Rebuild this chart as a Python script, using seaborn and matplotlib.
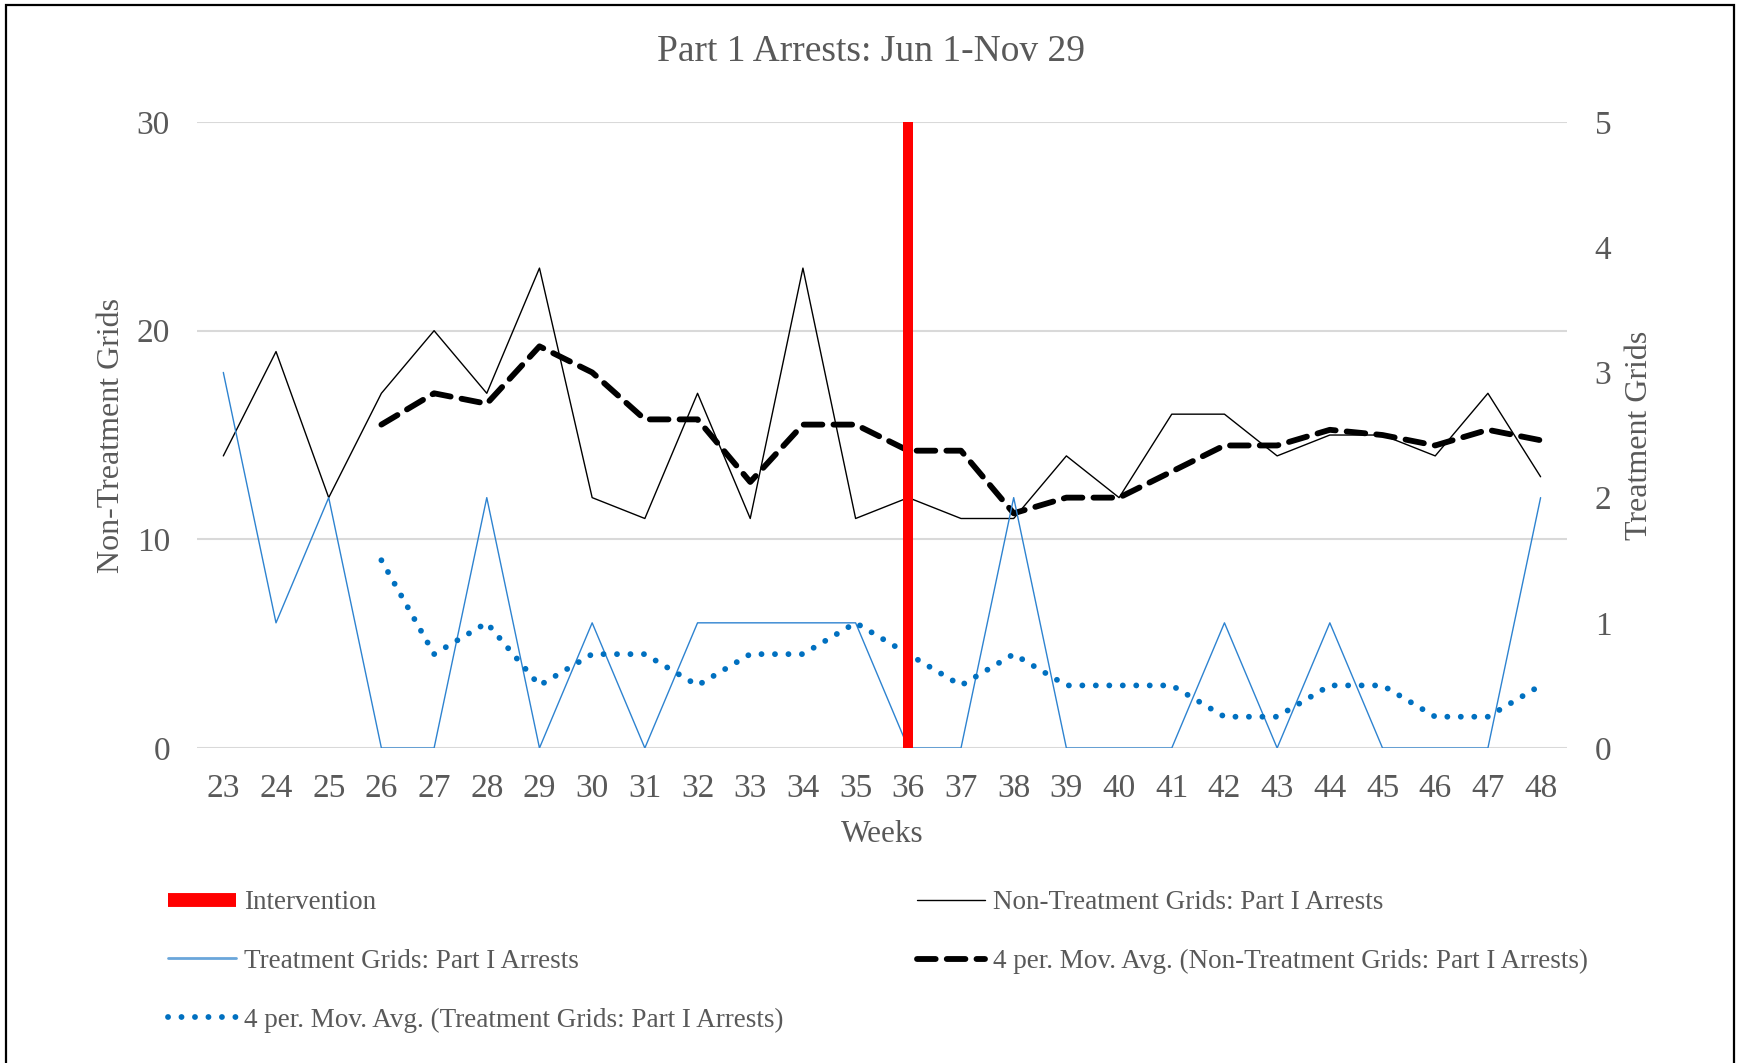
import matplotlib
matplotlib.use("Agg")
import matplotlib.pyplot as plt
from matplotlib.lines import Line2D
from matplotlib.patches import Rectangle
import seaborn as sns
import pandas as pd

# data
weeks = list(range(23, 49))
non_treatment = [14, 19, 12, 17, 20, 17, 23, 12, 11, 17, 11, 23, 11,
                 12, 11, 11, 14, 12, 16, 16, 14, 15, 15, 14, 17, 13]
treatment = [3, 1, 2, 0, 0, 2, 0, 1, 0, 1, 1, 1, 1,
             0, 0, 2, 0, 0, 0, 1, 0, 1, 0, 0, 0, 2]
intervention_week = 36
left_ticks = [0, 10, 20, 30]
right_ticks = [0, 1, 2, 3, 4, 5]

df = pd.DataFrame({"week": weeks, "non": non_treatment, "trt": treatment})
df["non_ma"] = df["non"].rolling(4).mean()
df["trt_ma"] = df["trt"].rolling(4).mean()

sns.set_style("white")
plt.rcParams["font.family"] = ["Liberation Serif", "DejaVu Serif"]
grey = "#595959"
blue = "#0070C0"
blue_thin = "#2E83D0"

fig = plt.figure(figsize=(17.37, 10.63), dpi=100)
ax = fig.add_axes([0.1134, 0.2963, 0.7887, 0.5889])
ax2 = ax.twinx()

# primary axis: non-treatment grids
sns.lineplot(data=df, x="week", y="non", ax=ax, color="black", linewidth=1.0)
sns.lineplot(data=df, x="week", y="non_ma", ax=ax, color="black", linewidth=4.2,
             linestyle=(0, (3.2, 1.9)), dash_capstyle="round")

# secondary axis: treatment grids
sns.lineplot(data=df, x="week", y="trt", ax=ax2, color=blue_thin, linewidth=1.0)
sns.lineplot(data=df, x="week", y="trt_ma", ax=ax2, color=blue, linewidth=4.2,
             linestyle=(0, (0.01, 2.3)), dash_capstyle="round")
ax2.axvline(intervention_week, color="red", linewidth=7.2, zorder=5)

ax.set_xlim(weeks[0] - 0.5, weeks[-1] + 0.5)
ax.set_ylim(0, 30)
ax2.set_ylim(0, 5)
ax.set_xticks(weeks)
ax.set_yticks(left_ticks)
ax2.set_yticks(right_ticks)
ax.grid(axis="y", color="#D9D9D9", linewidth=1.5)
ax.set_axisbelow(True)
for a in (ax, ax2):
    for s in a.spines.values():
        s.set_visible(False)
    a.tick_params(length=0, labelsize=24, labelcolor=grey)
ax.tick_params(axis="y", pad=19.5)
ax2.tick_params(axis="y", pad=20)
ax.tick_params(axis="x", pad=18)

ax.set_title("Part 1 Arrests: Jun 1-Nov 29", fontsize=27, color=grey, pad=44, x=0.492)
ax.set_xlabel("Weeks", fontsize=22.5, color=grey)
ax.set_ylabel("Non-Treatment Grids", fontsize=23, color=grey)
ax2.set_ylabel("Treatment Grids", fontsize=23, color=grey, rotation=90)
ax.xaxis.set_label_coords(0.5, -0.115)
ax.yaxis.set_label_coords(-0.0515, 0.5)
ax2.yaxis.set_label_coords(1.0427, 0.5)

# legend, two columns
h_int = Line2D([], [], color="red", linewidth=10, solid_capstyle="butt")
h_non = Line2D([], [], color="black", linewidth=1.0)
h_non_ma = Line2D([], [], color="black", linewidth=4.2,
                  linestyle=(0, (3.2, 1.9)), dash_capstyle="round")
h_trt = Line2D([], [], color="#6AA6DA", linewidth=2.0)
h_trt_ma = Line2D([], [], color=blue, linewidth=4.2,
                  linestyle=(0, (0.01, 2.3)), dash_capstyle="round")
leg_kw = dict(frameon=False, fontsize=19.5, labelcolor=grey, handlelength=2.5,
              handletextpad=0.3, labelspacing=1.25, borderaxespad=0, borderpad=0)
top = 1 - 890 / 1063
fig.legend([h_int, h_trt, h_trt_ma],
           ["Intervention", "Treatment Grids: Part I Arrests",
            "4 per. Mov. Avg. (Treatment Grids: Part I Arrests)"],
           loc="upper left", bbox_to_anchor=(168 / 1737, top), **leg_kw)
fig.legend([h_non, h_non_ma],
           ["Non-Treatment Grids: Part I Arrests",
            "4 per. Mov. Avg. (Non-Treatment Grids: Part I Arrests)"],
           loc="upper left", bbox_to_anchor=(917 / 1737, top), **leg_kw)

# outer chart border
fig.patches.append(Rectangle((6 / 1737, -0.02), 1728 / 1737, 1.02 - 5 / 1063,
                             transform=fig.transFigure, fill=False,
                             edgecolor="black", linewidth=1.6))

fig.savefig("out.png", dpi=100)
